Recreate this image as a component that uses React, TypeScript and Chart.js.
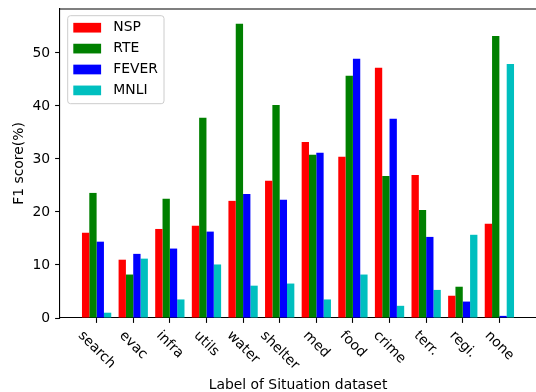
import React, { useEffect, useRef } from 'react';
import { Chart, registerables } from 'chart.js';

Chart.register(...registerables);

const categories = ['search', 'evac', 'infra', 'utils', 'water', 'shelter', 'med', 'food', 'crime', 'terr.', 'regi.', 'none'];
const nspValues = [16.1, 11.0, 16.8, 17.4, 22.1, 25.9, 33.2, 30.4, 47.2, 27.0, 4.2, 17.8];
const rteValues = [23.6, 8.2, 22.5, 37.8, 55.5, 40.2, 30.8, 45.7, 26.8, 20.4, 5.9, 53.2];
const feverValues = [14.4, 12.1, 13.1, 16.3, 23.4, 22.3, 31.2, 48.9, 37.6, 15.3, 3.1, 0.4];
const mnliValues = [1.0, 11.2, 3.5, 10.1, 6.1, 6.5, 3.5, 8.2, 2.3, 5.3, 15.7, 47.9];
const seriesNames = ['NSP', 'RTE', 'FEVER', 'MNLI'];
const seriesColors = ['#ff0000', '#008000', '#0000ff', '#00bfbf'];
const yMax = 58.3;
const yStep = 10;
const xTitle = 'Label of Situation dataset';
const yTitle = 'F1 score(%)';

const FONT_SIZE = 13.9;
const FONT_FAMILY = '"DejaVu Sans", sans-serif';
const FONT = `${FONT_SIZE}px ${FONT_FAMILY}`;

const decorPlugin = {
  id: 'decor',
  afterDraw(chart: any) {
    const { ctx, chartArea: a, scales } = chart;
    const xs = scales.x;
    ctx.save();
    // top spine
    ctx.strokeStyle = '#000';
    ctx.lineWidth = 1.1;
    ctx.beginPath();
    ctx.moveTo(a.left, a.top);
    ctx.lineTo(a.right, a.top);
    ctx.stroke();

    // rotated x tick labels (matplotlib rotation=-45, ha=center)
    ctx.font = FONT;
    ctx.fillStyle = '#000';
    ctx.textAlign = 'center';
    ctx.textBaseline = 'middle';
    const top = a.bottom + 4.9 + 4.9;
    const h = FONT_SIZE * 1.164;
    categories.forEach((c, i) => {
      const px = xs.getPixelForValue(i + 1);
      const w = ctx.measureText(c).width;
      const half = (w + h) / (2 * Math.SQRT2);
      ctx.save();
      ctx.translate(px, top + half);
      ctx.rotate(Math.PI / 4);
      ctx.fillText(c, 0, 0);
      ctx.restore();
    });

    // legend
    const lx = a.left + 7.7;
    const ly = a.top + 6.7;
    const lw = 96.3;
    const lh = 88;
    const r = 2.8;
    ctx.beginPath();
    ctx.moveTo(lx + r, ly);
    ctx.lineTo(lx + lw - r, ly);
    ctx.arcTo(lx + lw, ly, lx + lw, ly + r, r);
    ctx.lineTo(lx + lw, ly + lh - r);
    ctx.arcTo(lx + lw, ly + lh, lx + lw - r, ly + lh, r);
    ctx.lineTo(lx + r, ly + lh);
    ctx.arcTo(lx, ly + lh, lx, ly + lh - r, r);
    ctx.lineTo(lx, ly + r);
    ctx.arcTo(lx, ly, lx + r, ly, r);
    ctx.closePath();
    ctx.fillStyle = 'rgba(255,255,255,0.8)';
    ctx.fill();
    ctx.strokeStyle = '#cccccc';
    ctx.lineWidth = 1;
    ctx.stroke();
    ctx.textAlign = 'left';
    chart.data.datasets.forEach((ds: any, k: number) => {
      const cy = ly + 12 + k * 20.9;
      ctx.fillStyle = ds.backgroundColor;
      ctx.fillRect(lx + 5.6, cy - 4.85, 27.8, 9.7);
      ctx.fillStyle = '#000';
      ctx.fillText(ds.label, lx + 45.6, cy);
    });
    ctx.restore();
  },
};

export default function App() {
  const canvasRef = useRef<HTMLCanvasElement | null>(null);

  useEffect(() => {
    if (!canvasRef.current) return;
    const allSeries = [nspValues, rteValues, feverValues, mnliValues];
    const labels = ['', ...categories, ''];
    const chart = new Chart(canvasRef.current, {
      type: 'bar',
      data: {
        labels,
        datasets: allSeries.map((vals, k) => ({
          label: seriesNames[k],
          data: [null, ...vals, null] as any,
          backgroundColor: seriesColors[k],
          borderWidth: 0,
          categoryPercentage: 0.8,
          barPercentage: 1.0,
        })),
      },
      options: {
        animation: false,
        responsive: true,
        maintainAspectRatio: false,
        layout: { padding: { top: 9, left: 0, right: 0, bottom: 0 } },
        font: { family: FONT_FAMILY } as any,
        plugins: {
          legend: { display: false },
          tooltip: { enabled: false },
        },
        scales: {
          x: {
            type: 'category',
            offset: false,
            grid: {
              offset: false,
              drawOnChartArea: false,
              drawTicks: true,
              tickLength: 4.9,
              tickWidth: 1.1,
              tickColor: (ctx: any) =>
                ctx.index === 0 || ctx.index === labels.length - 1 ? 'rgba(0,0,0,0)' : '#000',
            },
            border: { display: true, color: '#000', width: 1.1 },
            ticks: { display: false, autoSkip: false },
            title: {
              display: true,
              text: xTitle,
              color: '#000',
              font: { size: FONT_SIZE, family: FONT_FAMILY, lineHeight: 1 },
              padding: { top: 0, bottom: 0 },
            },
            afterFit: (scale: any) => {
              scale.height = 74;
              scale.paddingLeft = 0;
              scale.paddingRight = 0;
            },
          },
          y: {
            type: 'linear',
            min: 0,
            max: yMax,
            grid: {
              drawOnChartArea: false,
              drawTicks: true,
              tickLength: 4.9,
              tickWidth: 1.1,
              tickColor: '#000',
            },
            border: { display: true, color: '#000', width: 1.1 },
            ticks: {
              stepSize: yStep,
              includeBounds: false,
              color: '#000',
              padding: 4.9,
              font: { size: FONT_SIZE, family: FONT_FAMILY },
            },
            title: {
              display: true,
              text: yTitle,
              color: '#000',
              font: { size: FONT_SIZE, family: FONT_FAMILY, lineHeight: 1.2 },
              padding: { top: 10.9, bottom: 0 },
            },
            afterFit: (scale: any) => {
              scale.width = 60;
              scale.paddingTop = 0;
              scale.paddingBottom = 0;
            },
          },
        },
      } as any,
      plugins: [decorPlugin],
    });
    return () => chart.destroy();
  }, []);

  return (
    <div style={{ position: 'fixed', left: 0, top: 0, width: 536, height: 392 }}>
      <canvas ref={canvasRef} />
    </div>
  );
}
